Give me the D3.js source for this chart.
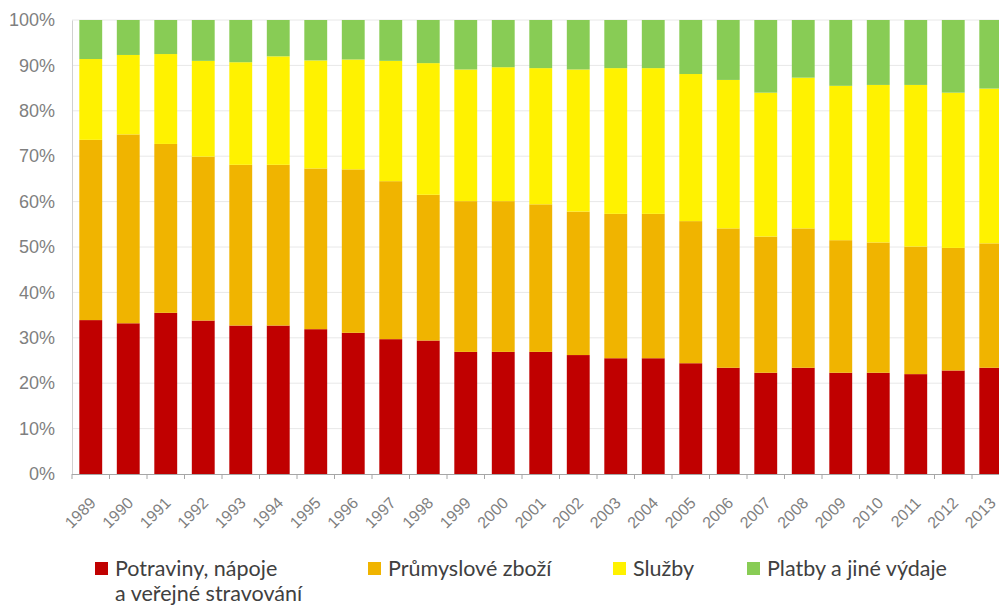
<!DOCTYPE html>
<html lang="cs">
<head>
<meta charset="utf-8">
<script src="https://cdn.jsdelivr.net/npm/d3@7"></script>
<style>
  html, body { margin: 0; padding: 0; background: #fff; }
  svg { display: block; font-family: Lato, "Open Sans", sans-serif; }
</style>
</head>
<body>
<svg id="chart" width="999" height="605"></svg>
<script>
// Struktura výdajů domácností (podíly v %)
const years = ["1989","1990","1991","1992","1993","1994","1995","1996","1997","1998","1999","2000","2001","2002","2003","2004","2005","2006","2007","2008","2009","2010","2011","2012","2013"];
const potraviny = [33.9,33.2,35.5,33.8,32.7,32.7,31.9,31.1,29.7,29.4,26.9,26.9,26.9,26.2,25.5,25.5,24.4,23.4,22.3,23.4,22.3,22.3,22.0,22.8,23.4];
const zbozi     = [39.7,41.6,37.2,36.1,35.4,35.4,35.4,36.0,34.8,32.1,33.2,33.2,32.5,31.6,31.8,31.8,31.3,30.7,30.0,30.7,29.2,28.7,28.1,27.0,27.4];
const sluzby    = [17.8,17.5,19.8,21.1,22.6,23.9,23.8,24.2,26.5,29.0,29.0,29.5,30.0,31.3,32.1,32.1,32.4,32.7,31.7,33.2,34.0,34.7,35.6,34.2,34.1];
const platby    = [8.6,7.7,7.5,9.0,9.3,8.0,8.9,8.7,9.0,9.5,10.9,10.4,10.6,10.9,10.6,10.6,11.9,13.2,16.0,12.7,14.5,14.3,14.3,16.0,15.1];
const seriesNames = ["Potraviny, nápoje\na veřejné stravování", "Průmyslové zboží", "Služby", "Platby a jiné výdaje"];
const yTicks = [0,10,20,30,40,50,60,70,80,90,100];

const keys = ["potraviny","zbozi","sluzby","platby"];
const colors = ["#C00000", "#F0B400", "#FFF200", "#88CC55"];

const rows = years.map((yr, i) => ({
  year: yr, potraviny: potraviny[i], zbozi: zbozi[i], sluzby: sluzby[i], platby: platby[i]
}));

const svg = d3.select("#chart");
const plotLeft = 72, plotTop = 20, plotBottom = 474;
const band = 37.5;
const plotRight = plotLeft + band * years.length;

const x = d3.scaleBand().domain(years).range([plotLeft, plotRight]).paddingInner(0.39).paddingOuter(0.195);
const y = d3.scaleLinear().domain([0, 100]).range([plotBottom, plotTop]);

// vodorovné mřížky
svg.append("g")
  .selectAll("line")
  .data(yTicks.filter(d => d > 0))
  .join("line")
  .attr("x1", plotLeft).attr("x2", 999)
  .attr("y1", d => y(d)).attr("y2", d => y(d))
  .attr("stroke", "#e8e8e8").attr("stroke-width", 1);

// skládané sloupce
const stack = d3.stack().keys(keys)(rows);
svg.append("g")
  .selectAll("g")
  .data(stack)
  .join("g")
  .attr("fill", (d, i) => colors[i])
  .selectAll("rect")
  .data(d => d)
  .join("rect")
  .attr("x", d => x(d.data.year))
  .attr("width", x.bandwidth())
  .attr("y", d => y(d[1]))
  .attr("height", d => y(d[0]) - y(d[1]));

// osa Y
const yAxis = svg.append("g")
  .attr("transform", `translate(${plotLeft},0)`)
  .call(d3.axisLeft(y).tickValues(yTicks).tickFormat(d => d + "%").tickSize(0).tickPadding(17));
yAxis.select(".domain").attr("stroke", "#d0d0d0");
yAxis.selectAll("text").attr("fill", "#7f7f7f").style("font-size", "18px");

// osa X
const xAxis = svg.append("g")
  .attr("transform", `translate(0,${plotBottom})`)
  .call(d3.axisBottom(x).tickSize(0).tickPadding(0));
xAxis.select(".domain").attr("stroke", "#a6a6a6").attr("d", `M${plotLeft},0.5H999`);
xAxis.append("g")
  .selectAll("line")
  .data(d3.range(years.length + 1))
  .join("line")
  .attr("x1", i => plotLeft + i * band).attr("x2", i => plotLeft + i * band)
  .attr("y1", 0).attr("y2", 5)
  .attr("stroke", "#a6a6a6");
xAxis.selectAll(".tick text")
  .attr("fill", "#7f7f7f")
  .style("font-size", "16px")
  .attr("text-anchor", "end")
  .attr("dy", null)
  .attr("transform", "translate(6,30) rotate(-45)")
  .attr("y", 0).attr("x", 0);

// legenda
const legendX = [95, 368, 613, 747];
const legend = svg.append("g");
seriesNames.forEach((name, i) => {
  const g = legend.append("g").attr("transform", `translate(${legendX[i]},562)`);
  g.append("rect").attr("width", 13).attr("height", 13).attr("fill", colors[i]);
  name.split("\n").forEach((line, j) => {
    g.append("text").attr("x", 20).attr("y", 14 + j * 25)
      .attr("fill", "#404040").style("font-size", "21.5px").text(line);
  });
});
</script>
</body>
</html>
